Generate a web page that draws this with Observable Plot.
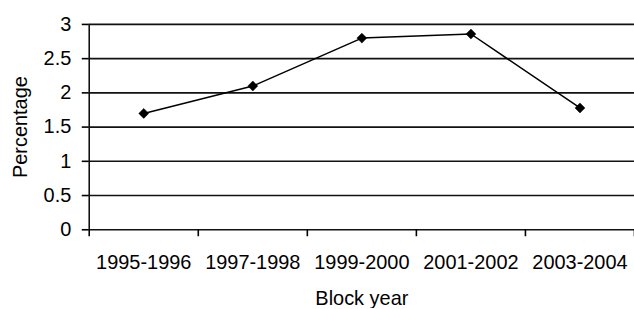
<!DOCTYPE html>
<html>
<head>
<meta charset="utf-8">
<script src="https://cdn.jsdelivr.net/npm/d3@7"></script>
<script src="https://cdn.jsdelivr.net/npm/@observablehq/plot@0.6"></script>
<style>
  html, body { margin: 0; padding: 0; background: #fff; overflow: hidden; }
  #chart svg { display: block; }
</style>
</head>
<body>
<div id="chart"></div>
<script>
const categories = ["1995-1996", "1997-1998", "1999-2000", "2001-2002", "2003-2004"];
const percentages = [1.7, 2.1, 2.8, 2.86, 1.78];
const yTicks = [0, 0.5, 1, 1.5, 2, 2.5, 3];
const xLabel = "Block year";
const yLabel = "Percentage";

const data = categories.map((c, i) => ({pos: i + 0.5, label: c, value: percentages[i]}));
const boundaries = d3.range(categories.length + 1);
const centers = categories.map((c, i) => i + 0.5);

const chart = Plot.plot({
  width: 636,
  height: 309,
  marginLeft: 89,
  marginRight: 0,
  marginTop: 24,
  marginBottom: 79,
  style: {fontFamily: "'Liberation Sans', Arial, sans-serif", fontSize: "20px", color: "#000", background: "#fff"},
  x: {type: "linear", domain: [0, categories.length]},
  y: {domain: [0, 3]},
  marks: [
    Plot.ruleY(yTicks, {stroke: "#111", strokeWidth: 1.6}),
    Plot.ruleX([0], {stroke: "#111", strokeWidth: 1.6}),
    Plot.axisY({ticks: yTicks, tickSize: 7, tickPadding: 11, fontSize: 20, tickFormat: d => String(d), label: yLabel, labelAnchor: "center", labelArrow: "none", labelOffset: 77, strokeWidth: 1.6}),
    Plot.axisX({ticks: boundaries, tickSize: 7, tickFormat: () => "", label: null, strokeWidth: 1.6}),
    Plot.axisX({ticks: centers, tickSize: 0, tickPadding: 25, fontSize: 20, tickFormat: d => categories[Math.round(d - 0.5)], label: xLabel, labelAnchor: "center", labelArrow: "none", labelOffset: 75}),
    Plot.lineY(data, {x: "pos", y: "value", stroke: "#000", strokeWidth: 1.5}),
    Plot.dot(data, {x: "pos", y: "value", symbol: "diamond2", r: 4.5, fill: "#000", stroke: "#000", strokeWidth: 0.5})
  ]
});
document.getElementById("chart").appendChild(chart);
</script>
</body>
</html>
